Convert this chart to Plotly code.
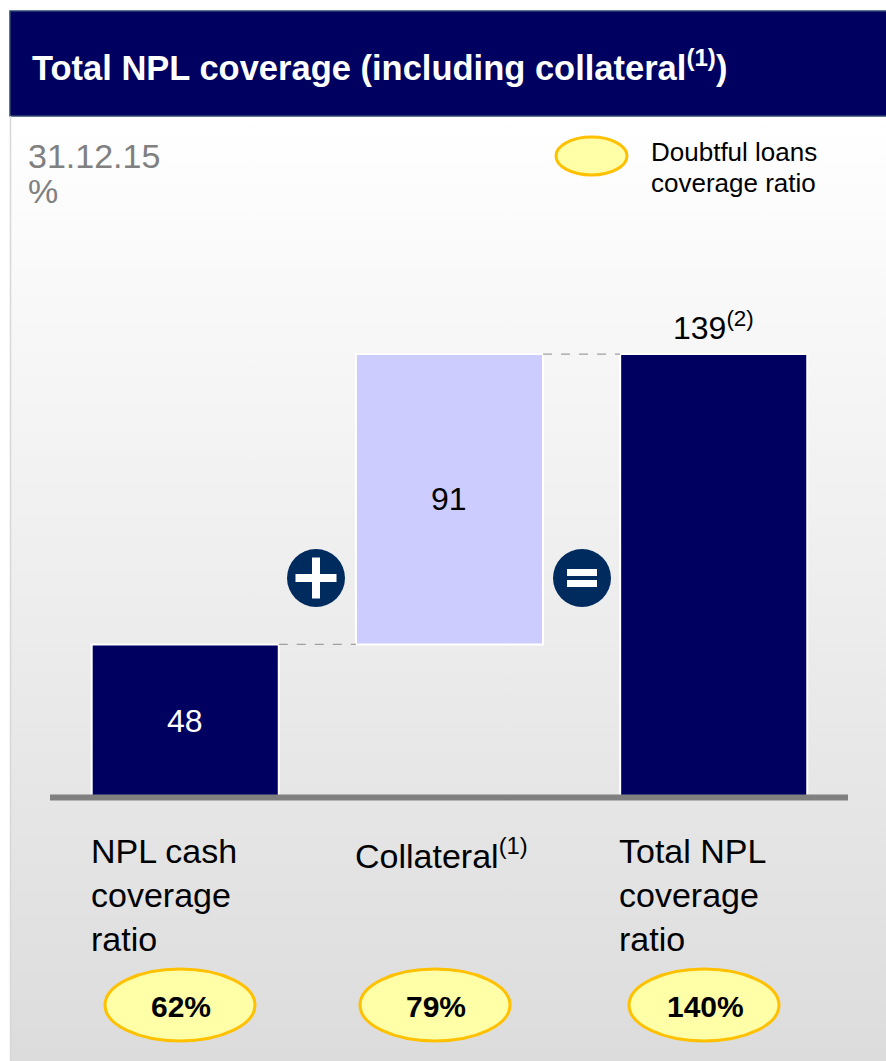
import plotly.graph_objects as go

# --- data ---------------------------------------------------------------
categories = ["NPL cash<br>coverage<br>ratio", "Collateral<sup>(1)</sup>", "Total NPL<br>coverage<br>ratio"]
bar_values = [48, 91, 139]
bar_bases = [0, 48, 0]
bar_colors = ["#000060", "#CCCCFF", "#000060"]
label_colors = ["white", "black", "black"]
doubtful_ratio = [62, 79, 140]          # doubtful loans coverage ratio, %
ratio_centers = [180, 435, 704]         # x of the ratio badges (px)
date_label = "31.12.15"
unit_label = "%"
title_text = "<b>Total NPL coverage (including collateral<sup>(1)</sup>)</b>"
legend_lines = ["Doubtful loans", "coverage ratio"]

W, H = 886, 1061
FONT = "Liberation Sans, Arial, sans-serif"
BAR_W = 0.708

# data axis ranges (x in category slots, y in %)
x_range = [-0.701, 2.652]
y_range = [-82.6, 250.0]

fig = go.Figure()

# panel background with vertical gradient (pixel axes x/y)
fig.add_trace(go.Scatter(
    x=[10, W, W, 10, 10], y=[116, 116, H, H, 116],
    mode="lines", line=dict(width=0), fill="toself",
    fillgradient=dict(type="vertical",
                      colorscale=[[0, "#DCDCDC"], [1, "#FFFFFF"]]),
    hoverinfo="skip", showlegend=False, xaxis="x", yaxis="y"))

# waterfall bars on the data axes
xs = list(range(len(categories)))
fig.add_trace(go.Bar(
    x=xs, y=bar_values, base=bar_bases, width=BAR_W,
    marker=dict(color=bar_colors, line=dict(color="white", width=2)),
    hoverinfo="skip", showlegend=False, xaxis="x2", yaxis="y2"))

shapes = []
annotations = []

# title bar
shapes.append(dict(type="rect", xref="x", yref="y", x0=10, x1=W + 2, y0=11, y1=116,
                   fillcolor="#000060", line=dict(color="#2C4670", width=1.5), layer="above"))
# panel left border
shapes.append(dict(type="line", xref="x", yref="y", x0=10.5, x1=10.5, y0=116, y1=H,
                   line=dict(color="#D8D8D8", width=1.5), layer="above"))

# dashed connectors between bar tops
for i in range(len(bar_values) - 1):
    level = bar_bases[i] + bar_values[i]
    shapes.append(dict(type="line", xref="x2", yref="y2",
                       x0=xs[i] + BAR_W / 2, x1=xs[i + 1] - BAR_W / 2, y0=level, y1=level,
                       line=dict(color="#A0A0A0", width=1.2, dash="dash"), layer="above"))

# baseline
shapes.append(dict(type="line", xref="x", yref="y2", x0=50, x1=848, y0=0, y1=0,
                   line=dict(color="#808080", width=6), layer="above"))

# operator badges (+ and =) between the bars
op_y = 578
OP_C = "#002B5E"
for xc, op in [(316, "+"), (582, "=")]:
    shapes.append(dict(type="circle", xref="x", yref="y", x0=xc - 29, x1=xc + 29,
                       y0=op_y - 29, y1=op_y + 29, fillcolor=OP_C, line=dict(width=0), layer="above"))
    if op == "+":
        shapes.append(dict(type="rect", xref="x", yref="y", x0=xc - 20.5, x1=xc + 20.5,
                           y0=op_y - 4, y1=op_y + 4, fillcolor="white", line=dict(width=0), layer="above"))
        shapes.append(dict(type="rect", xref="x", yref="y", x0=xc - 4, x1=xc + 4,
                           y0=op_y - 20.5, y1=op_y + 20.5, fillcolor="white", line=dict(width=0), layer="above"))
    else:
        for dy in (-5.5, 5.5):
            shapes.append(dict(type="rect", xref="x", yref="y", x0=xc - 15, x1=xc + 15,
                               y0=op_y + dy - 3.5, y1=op_y + dy + 3.5, fillcolor="white",
                               line=dict(width=0), layer="above"))

# ratio badges
ELL_FILL, ELL_LINE = "#FFFFA8", "#FFC000"
for xc, val in zip(ratio_centers, doubtful_ratio):
    shapes.append(dict(type="circle", xref="x", yref="y", x0=xc - 75, x1=xc + 75,
                       y0=969, y1=1041, fillcolor=ELL_FILL, line=dict(color=ELL_LINE, width=3),
                       layer="above"))
    annotations.append(dict(xref="x", yref="y", x=xc + 1, y=1006, text=f"<b>{val}%</b>",
                            showarrow=False, xanchor="center", yanchor="middle",
                            font=dict(family=FONT, size=30, color="black")))

# legend badge
shapes.append(dict(type="circle", xref="x", yref="y", x0=556, x1=627, y0=137, y1=175,
                   fillcolor=ELL_FILL, line=dict(color=ELL_LINE, width=3), layer="above"))
for k, line in enumerate(legend_lines):
    annotations.append(dict(xref="x", yref="y", x=649, y=152 + 31 * k, text=line, showarrow=False,
                            xanchor="left", yanchor="middle", align="left",
                            font=dict(family=FONT, size=26, color="black")))

# title and subtitle
annotations.append(dict(xref="x", yref="y", x=30, y=65, text=title_text, showarrow=False,
                        xanchor="left", yanchor="middle",
                        font=dict(family=FONT, size=34.5, color="white")))
annotations.append(dict(xref="x", yref="y", x=26, y=156, text=date_label, showarrow=False,
                        xanchor="left", yanchor="middle",
                        font=dict(family=FONT, size=34, color="#808080")))
annotations.append(dict(xref="x", yref="y", x=26, y=191, text=unit_label, showarrow=False,
                        xanchor="left", yanchor="middle",
                        font=dict(family=FONT, size=34, color="#808080")))

# value labels on the bars
for i, v in enumerate(bar_values):
    if i == len(bar_values) - 1:
        annotations.append(dict(xref="x2", yref="y2", x=xs[i], y=bar_bases[i] + v,
                                text=f"{v}<sup>(2)</sup>", showarrow=False,
                                xanchor="center", yanchor="bottom", yshift=6,
                                font=dict(family=FONT, size=32, color="black")))
    else:
        annotations.append(dict(xref="x2", yref="y2", x=xs[i], y=bar_bases[i] + v / 2,
                                text=str(v), showarrow=False,
                                xanchor="center", yanchor="middle",
                                font=dict(family=FONT, size=32, color=label_colors[i])))

# category labels, left-aligned under each bar
for i, c in enumerate(categories):
    annotations.append(dict(xref="x2", yref="y", x=xs[i] - BAR_W / 2, y=830, text=c,
                            showarrow=False, xanchor="left", yanchor="top", align="left",
                            xshift=-3,
                            font=dict(family=FONT, size=34, color="black")))

axis_off = dict(visible=False, showgrid=False, zeroline=False, fixedrange=True)
fig.update_layout(
    width=W, height=H,
    margin=dict(l=0, r=0, t=0, b=0),
    paper_bgcolor="white", plot_bgcolor="rgba(0,0,0,0)",
    xaxis=dict(range=[0, W], domain=[0, 1], **axis_off),
    yaxis=dict(range=[H, 0], domain=[0, 1], **axis_off),
    xaxis2=dict(range=x_range, overlaying="x", **axis_off),
    yaxis2=dict(range=y_range, overlaying="y", **axis_off),
    shapes=shapes, annotations=annotations,
    showlegend=False,
)

fig.write_html("out.html")
